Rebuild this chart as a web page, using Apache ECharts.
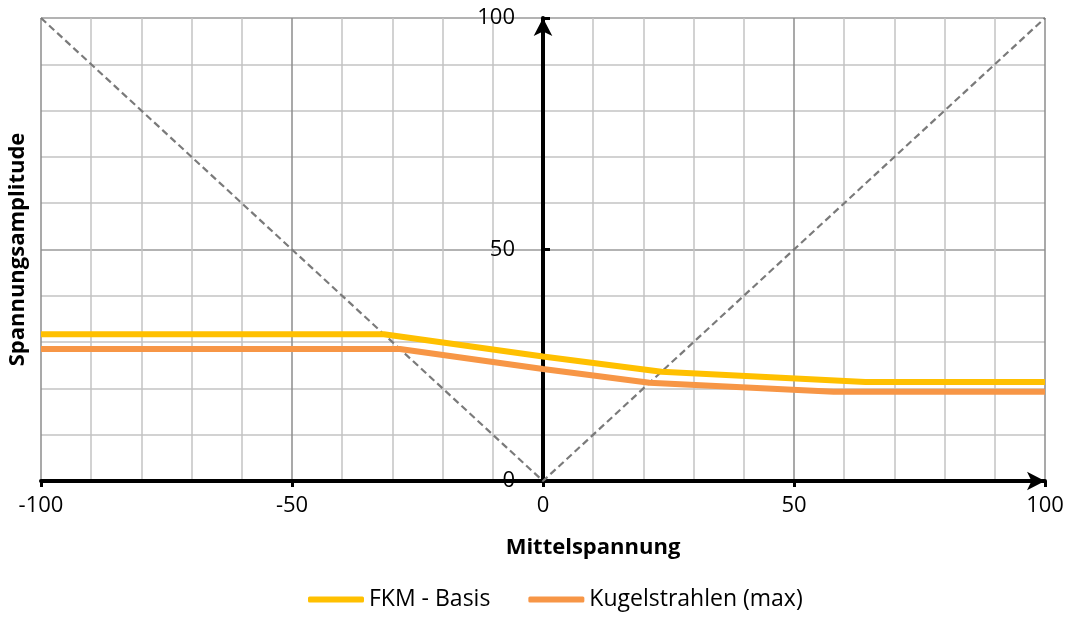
<!DOCTYPE html>
<html>
<head>
<meta charset="utf-8">
<script src="https://cdn.jsdelivr.net/npm/echarts@6/dist/echarts.min.js"></script>
<style>
  html, body { margin: 0; padding: 0; background: #fff; }
  #chart { width: 1073px; height: 619px; }
</style>
</head>
<body>
<div id="chart"></div>
<script>
// Haigh diagram: stress amplitude over mean stress
const seriesNames = ['FKM - Basis', 'Kugelstrahlen (max)'];
const basisX = [-100, -31.7, 0, 23.6, 64.2, 100];
const basisY = [31.7, 31.7, 26.9, 23.6, 21.4, 21.4];
const shotX = [-100, -28.5, 0, 21.2, 57.9, 100];
const shotY = [28.5, 28.5, 24.2, 21.2, 19.3, 19.3];
// reference rays R = -1 boundaries (sigma_a = |sigma_m|)
const rayX = [-100, 0, 100];
const rayY = [100, 0, 100];
const xRange = [-100, 100];
const yRange = [0, 100];
const majorStep = 50;

const pairs = (xs, ys) => xs.map((x, i) => [x, ys[i]]);
const font = 'Open Sans';
const gridLeft = 41, gridRight = 28;
// the amplitude axis sits at mean stress 0, i.e. the middle of the plot
const midOffset = -(1073 - gridLeft - gridRight) * (0 - xRange[0]) / (xRange[1] - xRange[0]);

const chart = echarts.init(document.getElementById('chart'));
chart.setOption({
  animation: false,
  grid: { left: gridLeft, right: gridRight, top: 18, bottom: 138, containLabel: false, outerBoundsMode: 'none' },
  legend: {
    data: seriesNames,
    bottom: 3,
    left: 303,
    icon: 'roundRect',
    itemWidth: 56,
    itemHeight: 6,
    itemGap: 38,
    textStyle: { fontFamily: font, fontSize: 23, color: '#000' }
  },
  xAxis: {
    type: 'value',
    min: xRange[0], max: xRange[1], interval: majorStep,
    name: 'Mittelspannung',
    nameLocation: 'middle',
    nameGap: 56,
    nameTextStyle: { fontFamily: font, fontSize: 22, fontWeight: 'bold', color: '#000', padding: [0, 0, 0, 100] },
    axisLine: { show: true, onZero: false, symbol: ['none', 'arrow'], symbolSize: [14, 18],
      lineStyle: { color: '#000', width: 4 } },
    axisTick: { show: true, length: 6, lineStyle: { color: '#000', width: 3 } },
    axisLabel: { margin: 14, fontFamily: font, fontSize: 22, color: '#000' },
    splitLine: { show: true, lineStyle: { color: '#8c8c8c', width: 1.5 } },
    minorTick: { show: false, splitNumber: 5 },
    minorSplitLine: { show: true, lineStyle: { color: '#c3c3c3', width: 1.5 } }
  },
  yAxis: [{
    type: 'value',
    position: 'left',
    offset: midOffset,
    min: yRange[0], max: yRange[1], interval: majorStep,
    axisLine: { show: true, onZero: false, symbol: ['none', 'arrow'], symbolSize: [14, 18],
      lineStyle: { color: '#000', width: 4 } },
    axisTick: { show: true, inside: true, length: 7, lineStyle: { color: '#000', width: 3 } },
    axisLabel: { margin: 28, fontFamily: font, fontSize: 22, color: '#000' },
    splitLine: { show: true, lineStyle: { color: '#9a9a9a', width: 1.5 } },
    minorTick: { show: false, splitNumber: 5 },
    minorSplitLine: { show: true, lineStyle: { color: '#c3c3c3', width: 1.5 } }
  }, {
    type: 'value',
    position: 'left',
    min: yRange[0], max: yRange[1], interval: majorStep,
    name: 'Spannungsamplitude',
    nameLocation: 'middle',
    nameGap: 12,
    nameTextStyle: { fontFamily: font, fontSize: 22, fontWeight: 'bold', color: '#000' },
    axisLine: { show: false, onZero: false },
    axisTick: { show: false },
    axisLabel: { show: false },
    splitLine: { show: false }
  }],
  series: [{
    type: 'line',
    data: pairs(rayX, rayY),
    symbol: 'none',
    silent: true,
    z: 1,
    lineStyle: { color: '#7a7a7a', width: 2.2, type: [7, 4] }
  }, {
    name: seriesNames[0],
    type: 'line',
    data: pairs(basisX, basisY),
    symbol: 'none',
    z: 3,
    color: '#FFC000',
    lineStyle: { color: '#FFC000', width: 6 }
  }, {
    name: seriesNames[1],
    type: 'line',
    data: pairs(shotX, shotY),
    symbol: 'none',
    z: 3,
    color: '#F79646',
    lineStyle: { color: '#F79646', width: 6 }
  }]
});
</script>
</body>
</html>
